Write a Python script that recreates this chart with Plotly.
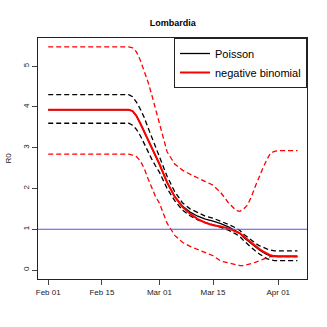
#R0 over time for Lombardia, Poisson vs negative binomial fits
import plotly.graph_objects as go
from datetime import date, timedelta

START = date(2020, 2, 1)

# days since Feb 01
days = [0, 21, 22, 23, 24, 25, 26, 27, 28, 29, 31, 33, 35, 37, 39, 41, 43, 45,
        47, 49, 50, 51, 52, 53, 54, 55, 56, 57, 58, 59, 60, 65]

pois_mean = [3.93, 3.93, 3.9, 3.78, 3.6, 3.4, 3.2, 3.0, 2.8, 2.6, 2.15, 1.8, 1.57, 1.42,
             1.32, 1.25, 1.2, 1.14, 1.06, 0.96, 0.9, 0.8, 0.72, 0.64, 0.57, 0.5, 0.44,
             0.38, 0.35, 0.34, 0.34, 0.34]
pois_hi = [4.3, 4.3, 4.25, 4.12, 3.95, 3.75, 3.5, 3.25, 3.0, 2.8, 2.3, 1.92, 1.65, 1.5,
           1.4, 1.32, 1.27, 1.2, 1.12, 1.03, 0.97, 0.88, 0.8, 0.72, 0.66, 0.6, 0.55,
           0.52, 0.49, 0.47, 0.47, 0.47]
pois_lo = [3.6, 3.6, 3.55, 3.45, 3.3, 3.1, 2.9, 2.72, 2.55, 2.4, 2.0, 1.7, 1.47, 1.33,
           1.23, 1.16, 1.11, 1.05, 0.98, 0.88, 0.82, 0.72, 0.63, 0.55, 0.47, 0.4, 0.34,
           0.28, 0.25, 0.23, 0.23, 0.23]
nb_mean = [3.93, 3.93, 3.9, 3.78, 3.6, 3.4, 3.2, 3.0, 2.8, 2.6, 2.15, 1.8, 1.55, 1.38,
           1.25, 1.16, 1.1, 1.07, 1.02, 0.95, 0.9, 0.82, 0.74, 0.67, 0.6, 0.52, 0.46,
           0.4, 0.36, 0.34, 0.33, 0.33]
nb_hi = [5.47, 5.47, 5.45, 5.35, 5.15, 4.9, 4.62, 4.3, 3.95, 3.6, 2.9, 2.6, 2.45, 2.35,
         2.25, 2.17, 2.08, 1.9, 1.65, 1.46, 1.44, 1.5, 1.6, 1.8, 2.05, 2.3, 2.5, 2.7,
         2.87, 2.91, 2.93, 2.93]
nb_lo = [2.84, 2.84, 2.82, 2.78, 2.68, 2.5, 2.25, 2.0, 1.8, 1.64, 1.15, 0.85, 0.68, 0.58,
         0.5, 0.42, 0.35, 0.22, 0.17, 0.13, 0.11, 0.11, 0.13, 0.16, 0.19, 0.23, 0.27,
         0.31, 0.33, 0.33, 0.33, 0.33]

tick_dates = ["2020-02-01", "2020-02-15", "2020-03-01", "2020-03-15", "2020-04-01"]
tick_labels = ["Feb 01", "Feb 15", "Mar 01", "Mar 15", "Apr 01"]

dates = [START + timedelta(days=d) for d in days]
DASH = "5px,3px"

def band(y, color):
    return go.Scatter(x=dates, y=y, mode="lines", showlegend=False,
                      line=dict(color=color, width=1.3, dash=DASH))

fig = go.Figure()
fig.add_trace(band(pois_hi, "black"))
fig.add_trace(band(pois_lo, "black"))
fig.add_trace(band(nb_hi, "red"))
fig.add_trace(band(nb_lo, "red"))
fig.add_trace(go.Scatter(x=dates, y=pois_mean, mode="lines", name="Poisson",
                         line=dict(color="black", width=1.3)))
fig.add_trace(go.Scatter(x=dates, y=nb_mean, mode="lines", name="negative binomial",
                         line=dict(color="red", width=2)))

fig.add_hline(y=1, line=dict(color="#5555e6", width=1))

fig.update_layout(
    width=327, height=327,
    margin=dict(l=38, r=20, t=38, b=48, autoexpand=False),
    plot_bgcolor="white", paper_bgcolor="white",
    font=dict(family="Liberation Sans, Arial", size=8, color="#222"),
    title=dict(text="<b>Lombardia</b>", x=0.528, xanchor="center", y=0.94,
               font=dict(size=9, color="black")),
    legend=dict(x=1, y=1, xanchor="right", yanchor="top", bgcolor="white",
                bordercolor="#222", borderwidth=1, font=dict(size=11, color="black"),
                tracegroupgap=0, itemwidth=30),
)
fig.update_xaxes(type="date", range=["2020-01-29 08:00", "2020-04-08 12:00"],
                 tickvals=tick_dates, ticktext=tick_labels, ticks="outside", ticklen=5,
                 showgrid=False, zeroline=False, showline=True, mirror=True,
                 linecolor="#222", linewidth=1, automargin=False)
fig.update_yaxes(range=[-0.22, 5.69], tickvals=[0, 1, 2, 3, 4, 5], tickangle=-90,
                 ticks="outside", ticklen=5, showgrid=False, zeroline=False,
                 showline=True, mirror=True, linecolor="#222", linewidth=1,
                 automargin=False, title=dict(text="R0", standoff=8, font=dict(size=8)))

fig.write_html("out.html", config={"displayModeBar": False},
               post_script="document.body.style.margin='0';")
